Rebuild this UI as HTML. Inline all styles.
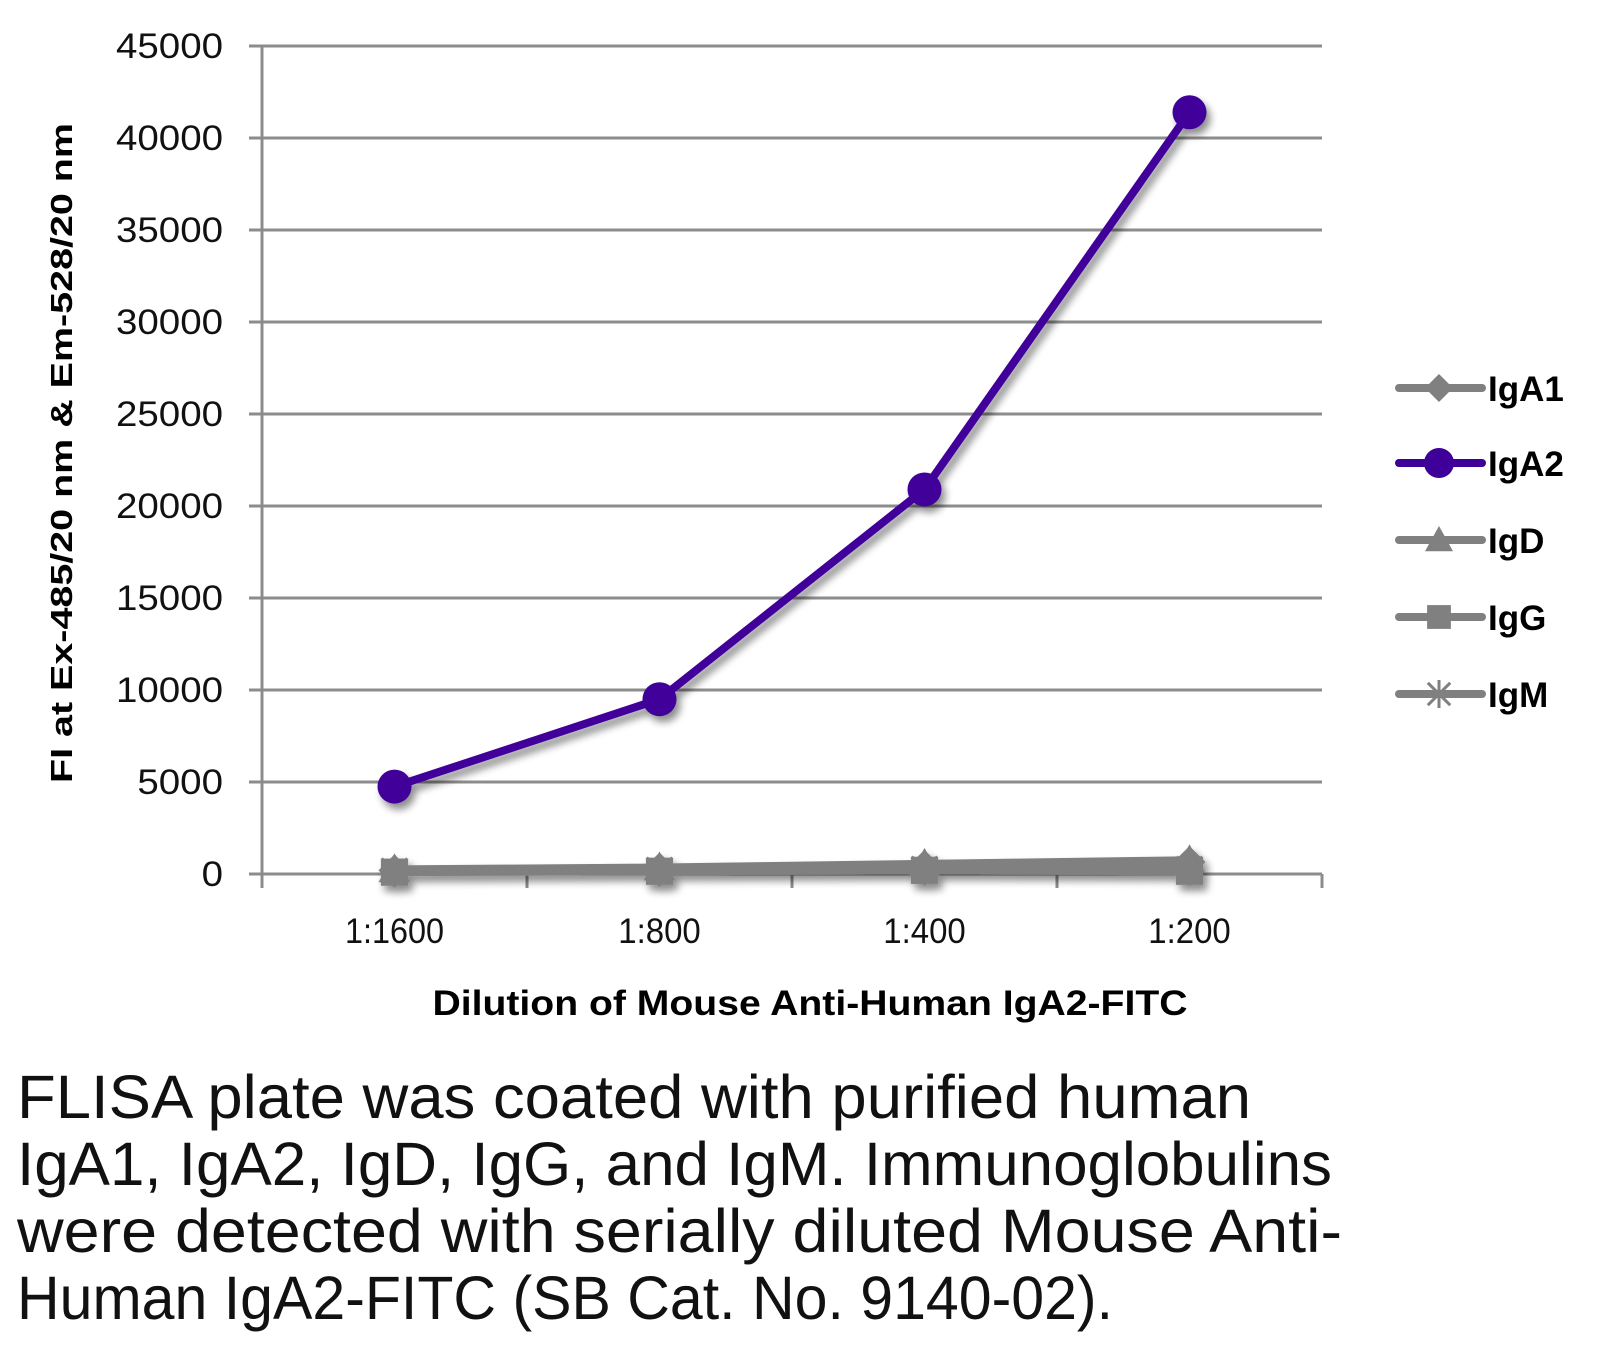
<!DOCTYPE html>
<html><head><meta charset="utf-8"><style>
html,body{margin:0;padding:0;background:#fff;}
svg{display:block;font-family:"Liberation Sans",sans-serif;}
</style></head><body>
<svg id="chart" width="1605" height="1349" viewBox="0 0 1605 1349" xmlns="http://www.w3.org/2000/svg">
<defs>
<filter id="sh" x="-20%" y="-20%" width="140%" height="140%">
<feGaussianBlur in="SourceAlpha" stdDeviation="4"/><feOffset dx="4" dy="6" result="b"/>
<feComponentTransfer><feFuncA type="linear" slope="0.45"/></feComponentTransfer>
<feMerge><feMergeNode/><feMergeNode in="SourceGraphic"/></feMerge>
</filter>
</defs>
<g id="grid"></g>
<g id="axes"></g>
<g id="series" filter="url(#sh)"></g>
<text transform="translate(72,453) rotate(-90)" text-anchor="middle" font-weight="bold" font-size="31" textLength="660" lengthAdjust="spacingAndGlyphs">FI at Ex-485/20 nm &amp; Em-528/20 nm</text>
<text x="810" y="1015" text-anchor="middle" font-weight="bold" font-size="35" textLength="755" lengthAdjust="spacingAndGlyphs">Dilution of Mouse Anti-Human IgA2-FITC</text>
<g id="legend"></g>
<g font-size="61" fill="#111">
<text x="17" y="1118" textLength="1234" lengthAdjust="spacingAndGlyphs">FLISA plate was coated with purified human</text>
<text x="17" y="1185" textLength="1315" lengthAdjust="spacingAndGlyphs">IgA1, IgA2, IgD, IgG, and IgM.  Immunoglobulins</text>
<text x="17" y="1252" textLength="1325" lengthAdjust="spacingAndGlyphs">were detected with serially diluted Mouse Anti-</text>
<text x="17" y="1319" textLength="1096" lengthAdjust="spacingAndGlyphs">Human IgA2-FITC (SB Cat. No. 9140-02).</text>
</g>
</svg>
<script>
const categories = ["1:1600","1:800","1:400","1:200"];
const yTicks = [0,5000,10000,15000,20000,25000,30000,35000,40000,45000];
const seriesNames = ["IgA1","IgA2","IgD","IgG","IgM"];
const igA1 = [200,300,450,650];
const igA2 = [4750,9500,20900,41400];
const igD = [250,350,550,750];
const igG = [100,150,200,150];
const igM = [150,200,250,250];
const NS="http://www.w3.org/2000/svg";
const L=262,R=1322,T=46,B=874,YMAX=45000;
const x=i=>L+(R-L)/categories.length*(i+0.5);
const y=v=>B-(B-T)*v/YMAX;
function el(tag,attrs,parent){const e=document.createElementNS(NS,tag);for(const k in attrs)e.setAttribute(k,attrs[k]);parent.appendChild(e);return e;}
const grid=document.getElementById('grid'),axes=document.getElementById('axes'),ser=document.getElementById('series'),leg=document.getElementById('legend');
yTicks.forEach(v=>{
 const ln=el('line',{x1:249,x2:R,y1:y(v),y2:y(v),stroke:'#8c8c8c','stroke-width':3},grid);
 
 
 const t=el('text',{x:223,y:y(v)+12,'text-anchor':'end','font-size':35,fill:'#111',textLength:String(v).length*21.4,lengthAdjust:'spacingAndGlyphs'},axes);
 t.textContent=v;
 
 
});
const ya=el('line',{x1:L,x2:L,y1:T,y2:B+14,stroke:'#8c8c8c','stroke-width':3},axes);


for(let i=0;i<=categories.length;i++){
 const xx=L+(R-L)/categories.length*i;
 const tk=el('line',{x1:xx,x2:xx,y1:B,y2:B+14,stroke:'#8c8c8c','stroke-width':3},axes);
 
 
}
categories.forEach((c,i)=>{
 const t=el('text',{x:x(i),y:943,'text-anchor':'middle','font-size':35,fill:'#111',textLength:c.length*16.5,lengthAdjust:'spacingAndGlyphs'},axes);
 t.textContent=c;
 
 
});
const gray='#808080',purple='#3f0099';
function marker(type,cx,cy,color,g,s){
 let m;
 if(type==='diamond') m=el('polygon',{points:`${cx},${cy-s} ${cx+s},${cy} ${cx},${cy+s} ${cx-s},${cy}`,fill:color},g);
 else if(type==='circle') m=el('circle',{cx:cx,cy:cy,r:s,fill:color},g);
 else if(type==='triangle') m=el('polygon',{points:`${cx},${cy-s} ${cx+s},${cy+s*0.8} ${cx-s},${cy+s*0.8}`,fill:color},g);
 else if(type==='square') m=el('rect',{x:cx-s*0.85,y:cy-s*0.85,width:s*1.7,height:s*1.7,fill:color},g);
 else { m=el('path',{d:`M${cx-s*0.8},${cy-s*0.8}L${cx+s*0.8},${cy+s*0.8}M${cx+s*0.8},${cy-s*0.8}L${cx-s*0.8},${cy+s*0.8}M${cx},${cy-s}L${cx},${cy+s}`,stroke:color,'stroke-width':3,fill:'none'},g); }
 
 
}
const allData=[igA1,igA2,igD,igG,igM];
const colors=[gray,purple,gray,gray,gray];
const markers=['diamond','circle','triangle','square','star'];
const order=[4,3,0,2,1];
order.forEach(si=>{
 const g=el('g',{},ser);
 
 
 const pts=allData[si].map((v,i)=>x(i)+','+y(v)).join(' ');
 const pl=el('polyline',{points:pts,fill:'none',stroke:colors[si],'stroke-width':8,'stroke-linejoin':'round','stroke-linecap':'round'},g);
 
 
 allData[si].forEach((v,i)=>marker(markers[si],x(i),y(v),colors[si],g,si===1?17:16));
});
const legY=[388,463,540,617,694];
seriesNames.forEach((n,si)=>{
 const g=el('g',{},leg);
 
 
 el('line',{x1:1399,x2:1482,y1:legY[si],y2:legY[si],stroke:colors[si],'stroke-width':8,'stroke-linecap':'round'},g);
 marker(markers[si],1439,legY[si],colors[si],g,si===1?15:14);
 const t=el('text',{x:1488,y:legY[si]+13,'font-size':35,'font-weight':'bold',fill:'#000'},g);
 t.textContent=n;
});
</script>
</body></html>
